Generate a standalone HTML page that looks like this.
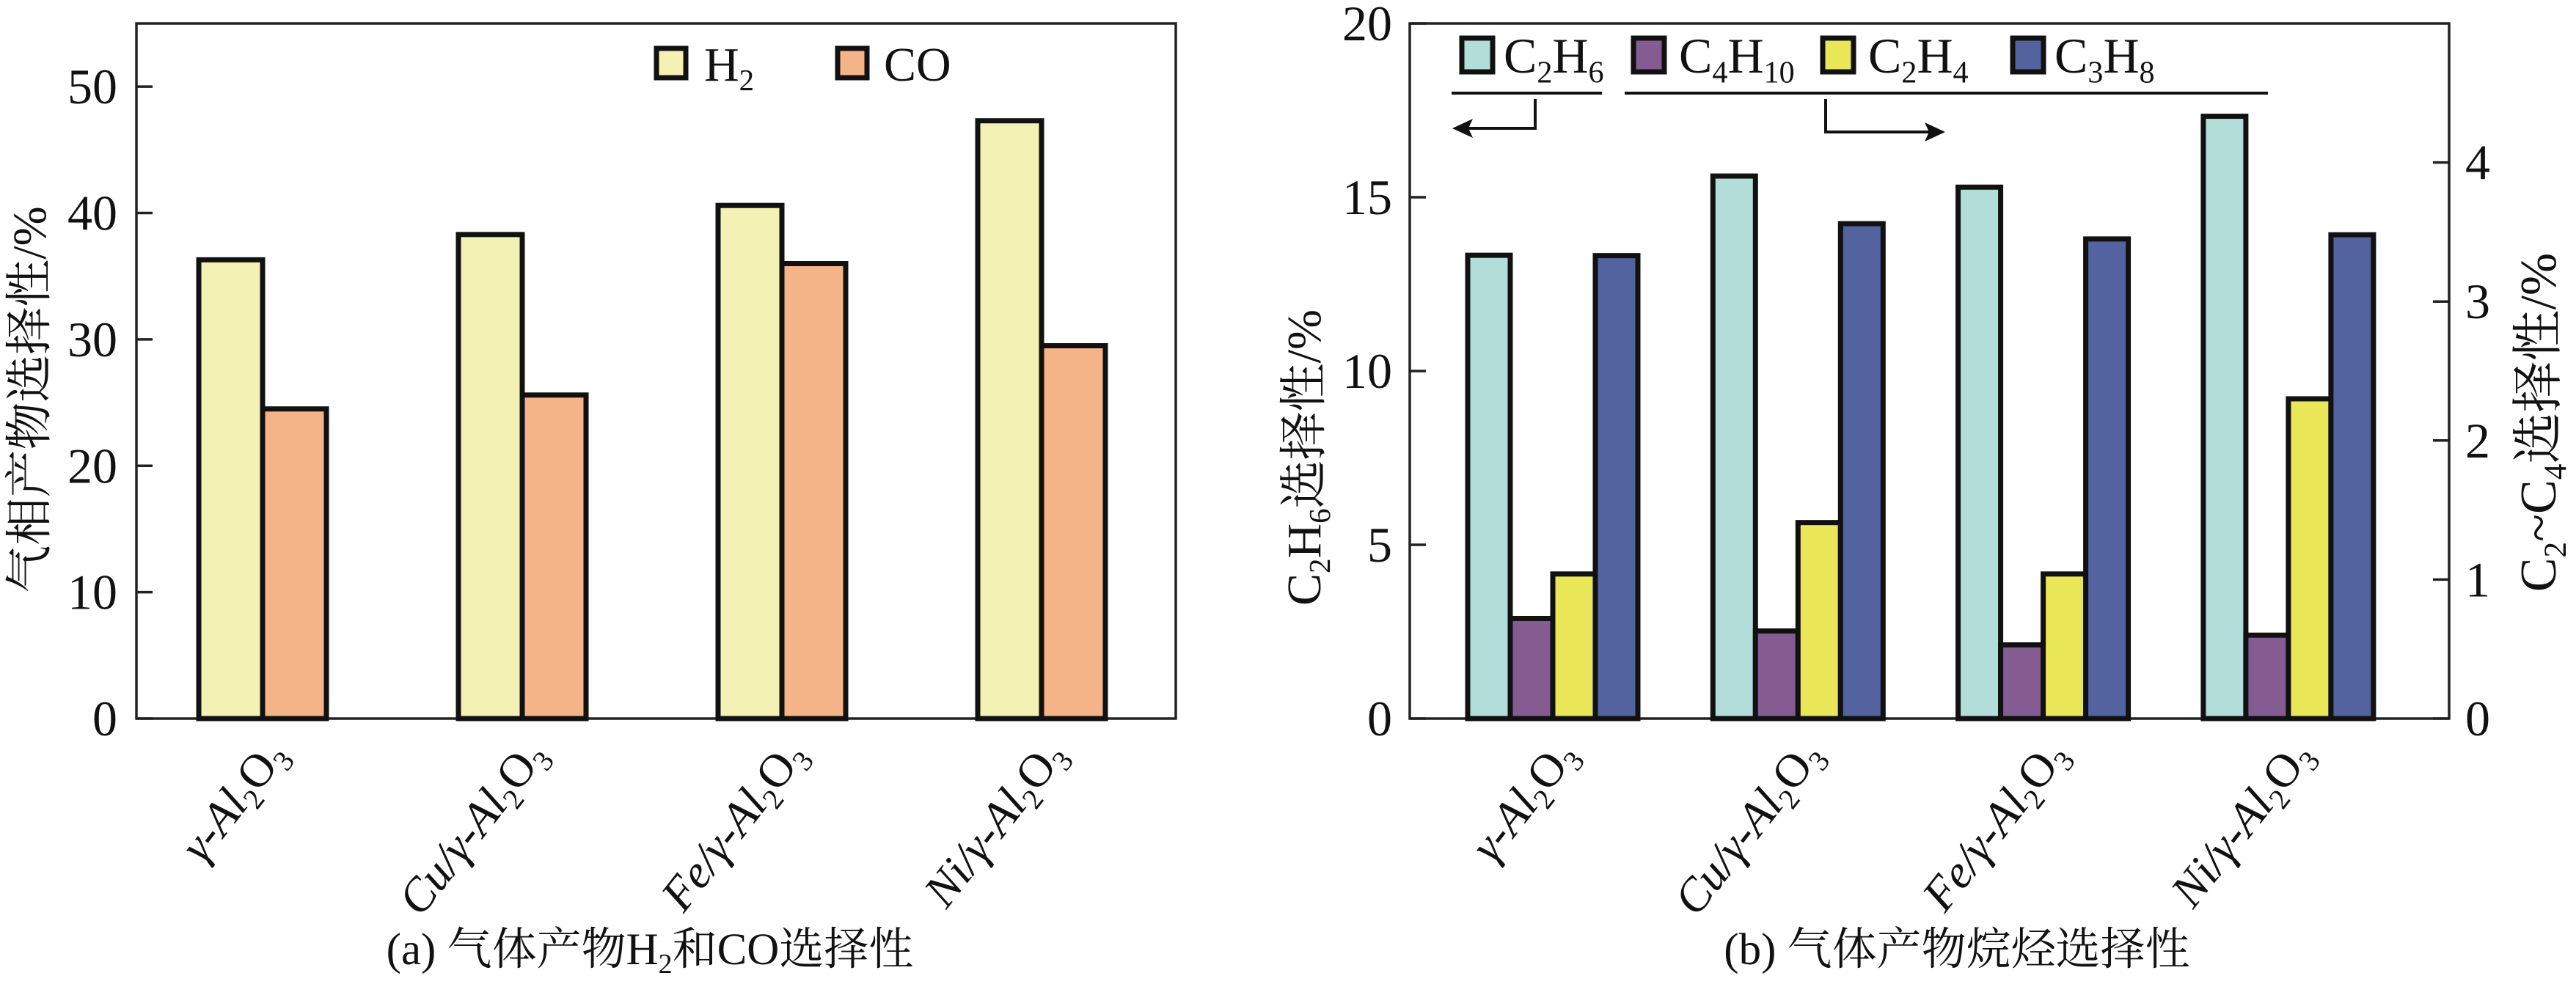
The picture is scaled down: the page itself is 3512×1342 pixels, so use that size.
<!DOCTYPE html>
<html><head><meta charset="utf-8">
<style>
html,body{margin:0;padding:0;background:#fff;}
svg{display:block;}
text{font-family:"Liberation Serif","Times New Roman","Noto Serif CJK SC",serif;}
</style></head>
<body>
<svg id="fig" width="3512" height="1342" viewBox="0 0 3512 1342" xmlns="http://www.w3.org/2000/svg">
<g id="chartA"></g>
<g id="chartB"></g>
</svg>
<script>
const categories = ["γ-Al2O3","Cu/γ-Al2O3","Fe/γ-Al2O3","Ni/γ-Al2O3"];
const catPrefix = ["","Cu/","Fe/","Ni/"];
const h2Values = [36.3, 38.3, 40.6, 47.3];
const coValues = [24.5, 25.6, 36.0, 29.5];
const ticksA = [0,10,20,30,40,50];
const c2h6Values = [13.33, 15.61, 15.29, 17.33];
const c4h10Values = [0.72, 0.63, 0.53, 0.60];
const c2h4Values = [1.04, 1.41, 1.04, 2.30];
const c3h8Values = [3.33, 3.56, 3.45, 3.48];
const ticksBLeft = [0,5,10,15,20];
const ticksBRight = [0,1,2,3,4];

const NS = "http://www.w3.org/2000/svg";
const FF = '"Liberation Serif","Times New Roman","Noto Serif CJK SC",serif';
function mk(tag, attrs, parent){
  const e = document.createElementNS(NS, tag);
  for (const k in attrs) e.setAttribute(k, attrs[k]);
  parent.appendChild(e);
  return e;
}
function subText(parent, x, y, parts, size, anchor, transform){
  const t = mk('text', {x:x, y:y, 'font-size':size, 'text-anchor':anchor||'start', fill:'#111', 'font-family':FF}, parent);
  if (transform) t.setAttribute('transform', transform);
  parts.forEach(p=>{
    const s = mk('tspan', {}, t);
    if (p.sub){ s.setAttribute('font-size', size*0.62); s.setAttribute('dy', size*0.2); }
    else if (p.after){ s.setAttribute('dy', -size*0.2); }
    if (p.it) s.setAttribute('font-style','italic');
    s.textContent = p.t;
  });
  return t;
}
function catLabel(parent, x, y, i){
  const parts = [];
  if (catPrefix[i]) parts.push({t:catPrefix[i], it:true});
  parts.push({t:"γ-Al", it:true},{t:"2",sub:true},{t:"O",after:true},{t:"3",sub:true});
  const t = subText(parent, x, y, parts, 64, 'end', `rotate(-52 ${x} ${y})`);
  
  
}

/* ---------- Chart A ---------- */
(function(){
  const g = document.getElementById('chartA');
  const L=186, R=1603, T=32, B=980, maxY=55;
  const y = v => B - v/maxY*(B-T);
  const cx = i => 358 + i*354;
  const bw = 87;
  const box = mk('rect',{x:L,y:T,width:R-L,height:B-T,fill:'none',stroke:'#222','stroke-width':3.5},g);
   
  ticksA.forEach(v=>{
    const ln = mk('line',{x1:L,x2:L+22,y1:y(v),y2:y(v),stroke:'#222','stroke-width':3.5},g);
     
    const t = mk('text',{x:L-26,y:y(v)+23,'font-size':68,'text-anchor':'end',fill:'#111','font-family':FF},g);
     
    t.textContent = v;
  });
  categories.forEach((c,i)=>{
    const r1 = mk('rect',{x:cx(i)-bw,y:y(h2Values[i]),width:bw,height:B-y(h2Values[i]),fill:'#f3f1b4',stroke:'#111','stroke-width':7},g);
     
    const r2 = mk('rect',{x:cx(i),y:y(coValues[i]),width:bw,height:B-y(coValues[i]),fill:'#f5b487',stroke:'#111','stroke-width':7},g);
     
    catLabel(g, cx(i)+35, 1030, i);
  });
  const lb1 = mk('rect',{x:895,y:66,width:40,height:40,fill:'#f3f1b4',stroke:'#111','stroke-width':7},g);
   
  const lt1 = subText(g,960,110,[{t:"H"},{t:"2",sub:true}],66);
   
  const lb2 = mk('rect',{x:1142,y:66,width:40,height:40,fill:'#f5b487',stroke:'#111','stroke-width':7},g);
   
  const lt2 = subText(g,1205,110,[{t:"CO"}],66);
   
  const yt = subText(g,0,0,[{t:"气相产物选择性/%"}],65,'middle','translate(62 545) rotate(-90)');
   
  const cap = subText(g,886,1315,[{t:"(a) 气体产物H"},{t:"2",sub:true},{t:"和CO选择性",after:true}],61,'middle');
   
})();

/* ---------- Chart B ---------- */
(function(){
  const g = document.getElementById('chartB');
  const L=1922, R=3339, T=32, B=980, maxL=20, maxR=5;
  const yl = v => B - v/maxL*(B-T);
  const yr = v => B - v/maxR*(B-T);
  const cx = i => 2117 + i*334.3;
  const bw = 58;
  const box = mk('rect',{x:L,y:T,width:R-L,height:B-T,fill:'none',stroke:'#222','stroke-width':3.5},g);
   
  ticksBLeft.forEach(v=>{
    const ln = mk('line',{x1:L,x2:L+22,y1:yl(v),y2:yl(v),stroke:'#222','stroke-width':3.5},g);
     
    const t = mk('text',{x:L-24,y:yl(v)+23,'font-size':68,'text-anchor':'end',fill:'#111','font-family':FF},g);
     
    t.textContent = v;
  });
  ticksBRight.forEach(v=>{
    const ln = mk('line',{x1:R-22,x2:R,y1:yr(v),y2:yr(v),stroke:'#222','stroke-width':3.5},g);
     
    const t = mk('text',{x:R+22,y:yr(v)+23,'font-size':68,'text-anchor':'start',fill:'#111','font-family':FF},g);
     
    t.textContent = v;
  });
  const series = [
    {vals:c2h6Values, f:'#b3ddd9', y:yl, name:'bar-c2h6'},
    {vals:c4h10Values, f:'#845c92', y:yr, name:'bar-c4h10'},
    {vals:c2h4Values, f:'#e9e657', y:yr, name:'bar-c2h4'},
    {vals:c3h8Values, f:'#52639f', y:yr, name:'bar-c3h8'}
  ];
  categories.forEach((c,i)=>{
    series.forEach((s,k)=>{
      const top = s.y(s.vals[i]);
      const r = mk('rect',{x:cx(i)-2*bw+k*bw,y:top,width:bw,height:B-top,fill:s.f,stroke:'#111','stroke-width':7},g);
      
      
    });
    catLabel(g, cx(i)+35, 1030, i);
  });
  const leg = [
    {x:1993, tx:2050, f:'#b3ddd9', p:[{t:"C"},{t:"2",sub:true},{t:"H",after:true},{t:"6",sub:true}]},
    {x:2227, tx:2289, f:'#845c92', p:[{t:"C"},{t:"4",sub:true},{t:"H",after:true},{t:"10",sub:true}]},
    {x:2485, tx:2547, f:'#e9e657', p:[{t:"C"},{t:"2",sub:true},{t:"H",after:true},{t:"4",sub:true}]},
    {x:2744, tx:2801, f:'#52639f', p:[{t:"C"},{t:"3",sub:true},{t:"H",after:true},{t:"8",sub:true}]}
  ];
  leg.forEach(l=>{
    const b = mk('rect',{x:l.x,y:52,width:42,height:46,fill:l.f,stroke:'#111','stroke-width':7},g);
     
    const t = subText(g,l.tx,99,l.p,68);
     
  });
  const s = {stroke:'#111','stroke-width':4,fill:'none'};
  const l1 = mk('line',Object.assign({x1:1979,x2:2184,y1:127,y2:127},s),g);
   
  const l2 = mk('line',Object.assign({x1:2215,x2:3092,y1:127,y2:127},s),g);
   
  const a1 = mk('path',Object.assign({d:'M2093 135 V175 H1995'},s),g);
   
  const h1 = mk('path',{d:'M1980 175 L2008 162 L2002 175 L2008 188 Z',fill:'#111'},g);
   
  const a2 = mk('path',Object.assign({d:'M2489 135 V180 H2638'},s),g);
   
  const h2 = mk('path',{d:'M2652 180 L2624 167 L2630 180 L2624 193 Z',fill:'#111'},g);
   
  const ytl = subText(g,0,0,[{t:"C"},{t:"2",sub:true},{t:"H",after:true},{t:"6",sub:true},{t:"选择性/%",after:true}],66,'middle','translate(1800 624) rotate(-90)');
   
  const ytr = subText(g,0,0,[{t:"C"},{t:"2",sub:true},{t:"~C",after:true},{t:"4",sub:true},{t:"选择性/%",after:true}],70,'middle','translate(3484 576) rotate(-90)');
   
  const cap = subText(g,2668,1315,[{t:"(b) 气体产物烷烃选择性"}],61,'middle');
   
})();
</script>
</body></html>
